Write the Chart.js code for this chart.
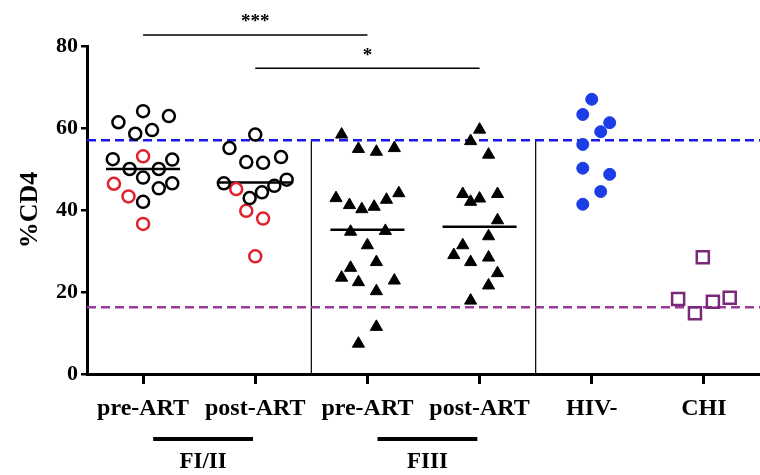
<!DOCTYPE html>
<html lang="en">
<head>
  <meta charset="UTF-8" />
  <title>%CD4 by group</title>
  <script src="https://cdn.jsdelivr.net/npm/chart.js"></script>
  <style>
    body {
      margin: 0;
      background: #ffffff;
    }
    #wrap {
      width: 760px;
      height: 475px;
    }
  </style>
</head>
<body>
  <div id="wrap">
    <canvas id="cd4Chart" width="760" height="475"></canvas>
  </div>

  <script>
    // categories and tick labels
    const xLabels = ['pre-ART', 'post-ART', 'pre-ART', 'post-ART', 'HIV-', 'CHI'];
    const yTicks = [0, 20, 40, 60, 80];

    // [x (category index + jitter), %CD4]
    const fi2PreBlack = [[-0.22, 61.4], [0.0, 64.1], [0.23, 62.9], [-0.07, 58.6], [0.08, 59.5],
      [-0.27, 52.4], [-0.12, 50.0], [0.0, 47.9], [0.14, 50.0], [0.26, 52.3],
      [0.14, 45.3], [0.26, 46.5], [0.0, 42.0]];
    const fi2PreRed = [[0.0, 53.1], [-0.26, 46.4], [-0.13, 43.3], [0.0, 36.6]];
    const fi2PostBlack = [[1.0, 58.4], [0.77, 55.1], [0.92, 51.7], [1.07, 51.5], [1.23, 52.9],
      [0.72, 46.5], [0.95, 42.9], [1.06, 44.3], [1.17, 45.9], [1.28, 47.4]];
    const fi2PostRed = [[0.83, 45.1], [0.92, 39.8], [1.07, 37.9], [1.0, 28.7]];
    const fi3Pre = [[1.77, 58.4], [1.92, 54.9], [2.08, 54.2], [2.24, 55.1], [1.72, 42.9],
      [1.84, 41.2], [1.95, 40.2], [2.06, 40.8], [2.17, 42.5], [2.28, 44.1],
      [1.85, 34.7], [2.16, 34.9], [2.0, 31.4], [2.08, 27.3], [1.85, 25.9],
      [1.77, 23.5], [1.92, 22.4], [2.24, 22.8], [2.08, 20.2], [2.08, 11.5], [1.92, 7.4]];
    const fi3Post = [[3.0, 59.6], [2.92, 56.8], [3.08, 53.5], [2.85, 43.9], [2.92, 42.0],
      [3.0, 42.8], [3.16, 43.9], [3.16, 37.5], [3.08, 33.6], [2.85, 31.4],
      [2.77, 29.0], [2.92, 27.3], [3.08, 28.4], [3.16, 24.6], [3.08, 21.6], [2.92, 17.9]];
    const hivNeg = [[4.0, 67.0], [3.92, 63.3], [4.16, 61.3], [4.08, 59.1], [3.92, 56.0],
      [3.92, 50.2], [4.16, 48.7], [4.08, 44.5], [3.92, 41.4]];
    const chi = [[4.99, 28.5], [4.77, 18.3], [4.92, 14.8], [5.08, 17.6], [5.23, 18.6]];

    // medians of the four patient groups
    const medianCenters = [0, 1, 2, 3];
    const medianValues = [50.0, 46.7, 35.2, 35.9];

    // reference means
    const hivNegMean = 57.0;
    const chiMean = 16.3;

    // panel separators
    const separatorX = [1.5, 3.5];

    // significance brackets
    const sigLabels = ['***', '*'];
    const sigFrom = [0, 1];
    const sigTo = [2, 3];
    const sigLevel = [82.7, 74.6];

    // group bars under the axis
    const groupNames = ['FI/II', 'FIII'];
    const groupFrom = [0.09, 2.09];
    const groupTo = [0.98, 2.98];

    const SERIF = "'Liberation Serif', 'Times New Roman', serif";
    const pts = arr => arr.map(p => ({ x: p[0], y: p[1] }));

    function scatterSet(data, style, color, filled) {
      let r = 6;
      if (style === 'triangle') r = 7;
      if (style === 'rect') r = 8.5;
      return {
        type: 'scatter',
        data: pts(data),
        pointStyle: style,
        pointRadius: r,
        borderColor: color,
        backgroundColor: filled ? color : 'rgba(255,255,255,0)',
        borderWidth: filled ? 1 : 2.5
      };
    }

    function lineSet(data, color, width, dash) {
      return {
        type: 'line',
        data: data,
        borderColor: color,
        borderWidth: width,
        borderDash: dash || [],
        pointRadius: 0,
        fill: false,
        clip: false
      };
    }

    const datasets = [
      scatterSet(fi2PreBlack, 'circle', '#000000', false),
      scatterSet(fi2PreRed, 'circle', '#e3202b', false),
      scatterSet(fi2PostBlack, 'circle', '#000000', false),
      scatterSet(fi2PostRed, 'circle', '#e3202b', false),
      scatterSet(fi3Pre, 'triangle', '#000000', true),
      scatterSet(fi3Post, 'triangle', '#000000', true),
      scatterSet(hivNeg, 'circle', '#1c3ce6', true),
      scatterSet(chi, 'rect', '#7a2878', false)
    ];

    medianCenters.forEach((c, i) => {
      datasets.push(lineSet([{ x: c - 0.33, y: medianValues[i] }, { x: c + 0.33, y: medianValues[i] }], '#000000', 2.5));
    });

    datasets.push(lineSet([{ x: -0.5, y: hivNegMean }, { x: 5.5, y: hivNegMean }], '#1a1ae8', 2.5, [9, 5]));
    datasets.push(lineSet([{ x: -0.5, y: chiMean }, { x: 5.5, y: chiMean }], '#9a3a9a', 2.5, [9, 5]));

    separatorX.forEach(x => {
      datasets.push(lineSet([{ x: x, y: 0 }, { x: x, y: hivNegMean }], '#000000', 1.2));
    });

    sigFrom.forEach((f, i) => {
      datasets.push(lineSet([{ x: f, y: sigLevel[i] }, { x: sigTo[i], y: sigLevel[i] }], '#000000', 1.5));
    });

    // stars above the brackets and the group bars below the axis
    const annotations = {
      id: 'annotations',
      afterDatasetsDraw(chart) {
        const ctx = chart.ctx;
        const xs = chart.scales.x;
        const ys = chart.scales.y;
        ctx.save();
        ctx.fillStyle = '#000';
        ctx.strokeStyle = '#000';
        ctx.textAlign = 'center';
        ctx.textBaseline = 'bottom';
        ctx.font = 'bold 19px ' + SERIF;
        sigLabels.forEach((t, i) => {
          const mid = (sigFrom[i] + sigTo[i]) / 2;
          ctx.fillText(t, xs.getPixelForValue(mid), ys.getPixelForValue(sigLevel[i]) - 3);
        });

        const barY = chart.chartArea.bottom + 65;
        ctx.lineWidth = 4;
        ctx.textBaseline = 'middle';
        ctx.font = 'bold 23px ' + SERIF;
        groupNames.forEach((g, i) => {
          const x0 = xs.getPixelForValue(groupFrom[i]);
          const x1 = xs.getPixelForValue(groupTo[i]);
          ctx.beginPath();
          ctx.moveTo(x0, barY);
          ctx.lineTo(x1, barY);
          ctx.stroke();
          ctx.fillText(g, (x0 + x1) / 2, barY + 23);
        });
        ctx.restore();
      }
    };

    new Chart(document.getElementById('cd4Chart'), {
      type: 'scatter',
      data: { datasets: datasets },
      options: {
        responsive: false,
        animation: false,
        layout: { autoPadding: false, padding: { top: 46, left: 0, right: 0, bottom: 0 } },
        plugins: {
          legend: { display: false },
          tooltip: { enabled: false }
        },
        scales: {
          x: {
            type: 'linear',
            min: -0.5,
            max: 5.5,
            afterBuildTicks: scale => { scale.ticks = xLabels.map((_, i) => ({ value: i })); },
            afterFit: scale => { scale.height = 101; },
            ticks: {
              callback: v => xLabels[v],
              color: '#000',
              font: { family: SERIF, size: 24, weight: 'bold' },
              padding: 10,
              maxRotation: 0
            },
            grid: { drawOnChartArea: false, drawTicks: true, tickLength: 10, color: '#000', lineWidth: 3 },
            border: { display: true, color: '#000', width: 3 }
          },
          y: {
            min: 0,
            max: 80,
            afterBuildTicks: scale => { scale.ticks = yTicks.map(v => ({ value: v })); },
            afterFit: scale => { scale.width = 87; },
            ticks: {
              color: '#000',
              font: { family: SERIF, size: 22, weight: 'bold' },
              padding: 3
            },
            grid: { drawOnChartArea: false, drawTicks: true, tickLength: 6, color: '#000', lineWidth: 2.5 },
            border: { display: true, color: '#000', width: 3 },
            title: {
              display: true,
              text: '%CD4',
              color: '#000',
              font: { family: SERIF, size: 26, weight: 'bold' },
              padding: { top: 15, bottom: 0 }
            }
          }
        }
      },
      plugins: [annotations]
    });
  </script>
</body>
</html>
